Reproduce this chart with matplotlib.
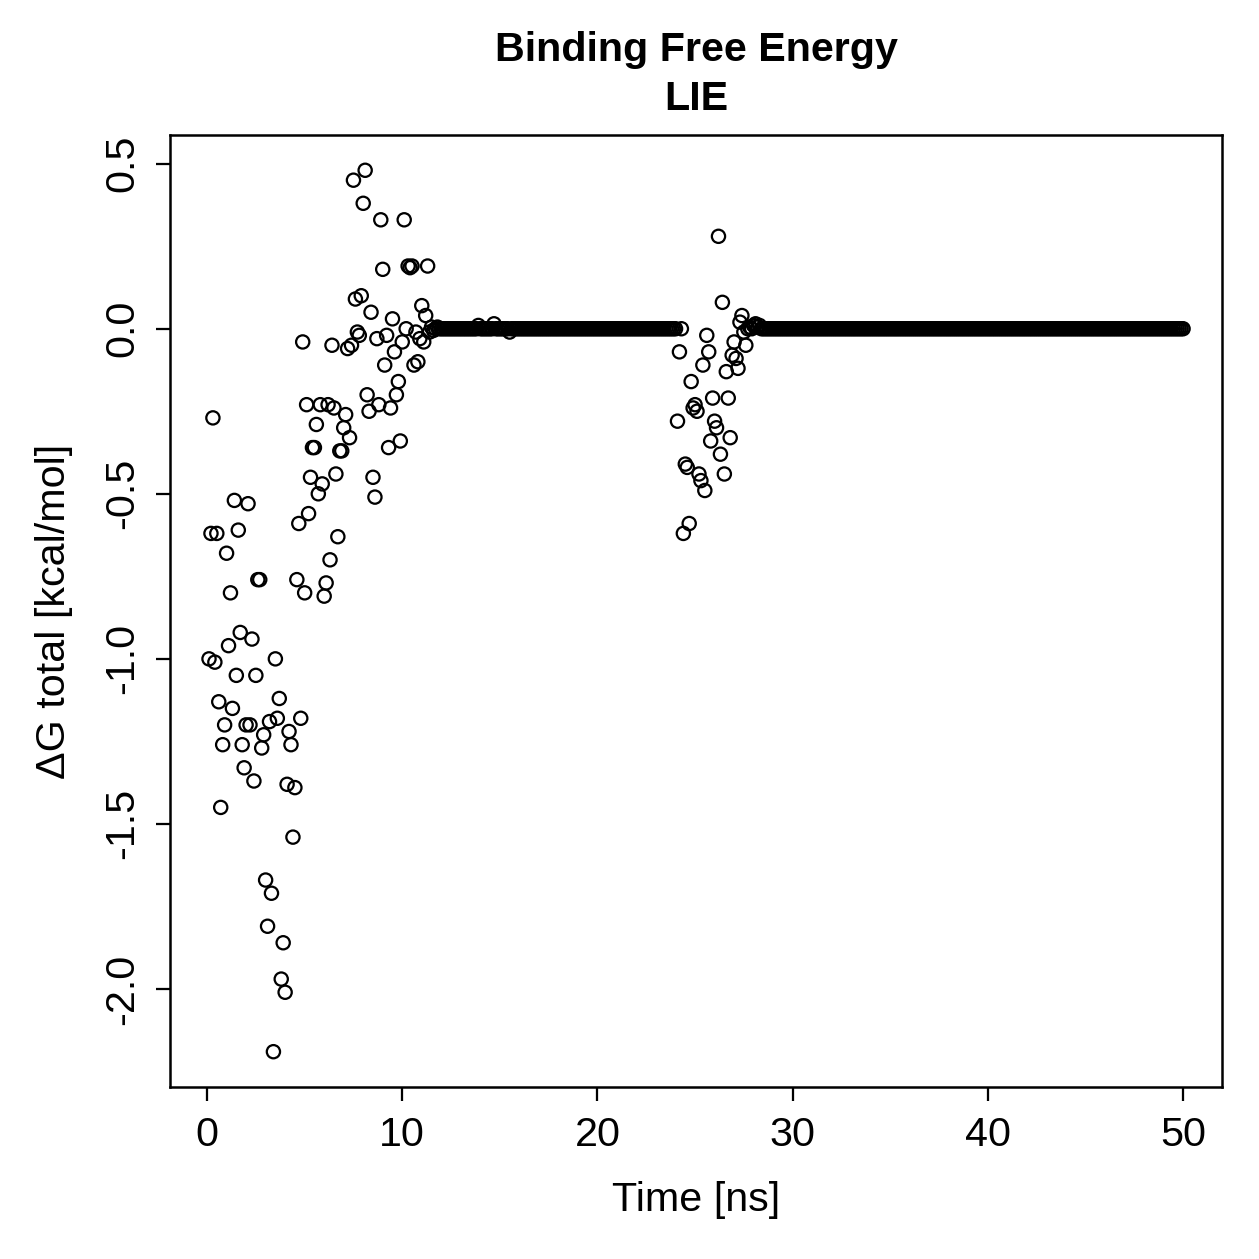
import numpy as np
import matplotlib.pyplot as plt

plt.rcParams['font.family'] = ['Liberation Sans', 'DejaVu Sans']

# dG total (kcal/mol), one value every 0.1 ns
dg_start = [
    -1.00, -0.62, -0.27, -1.01, -0.62, -1.13, -1.45, -1.26, -1.20, -0.68,
    -0.96, -0.80, -1.15, -0.52, -1.05, -0.61, -0.92, -1.26, -1.33, -1.20,
    -0.53, -1.20, -0.94, -1.37, -1.05, -0.76, -0.76, -1.27, -1.23, -1.67,
    -1.81, -1.19, -1.71, -2.19, -1.00, -1.18, -1.12, -1.97, -1.86, -2.01,
    -1.38, -1.22, -1.26, -1.54, -1.39, -0.76, -0.59, -1.18, -0.04, -0.80,
    -0.23, -0.56, -0.45, -0.36, -0.36, -0.29, -0.50, -0.23, -0.47, -0.81,
    -0.77, -0.23, -0.70, -0.05, -0.24, -0.44, -0.63, -0.37, -0.37, -0.30,
    -0.26, -0.06, -0.33, -0.05, 0.45, 0.09, -0.01, -0.02, 0.10, 0.38,
    0.48, -0.20, -0.25, 0.05, -0.45, -0.51, -0.03, -0.23, 0.33, 0.18,
    -0.11, -0.02, -0.36, -0.24, 0.03, -0.07, -0.20, -0.16, -0.34, -0.04,
    0.33, 0.00, 0.19, 0.185, 0.19, -0.11, -0.01, -0.10, -0.03, 0.07,
    -0.04, 0.04, 0.19, -0.01,
]
dg_plateau1 = ([0.005, -0.005, 0.0, 0.005] + [0.0] * 20 + [0.01] + [0.0] * 7
               + [0.015] + [0.0] * 7 + [-0.01] + [0.0] * 85)
dg_middle = [
    -0.28, -0.07, 0.00, -0.62, -0.41, -0.42, -0.59, -0.16, -0.24, -0.23,
    -0.25, -0.44, -0.46, -0.11, -0.49, -0.02, -0.07, -0.34, -0.21, -0.28,
    -0.30, 0.28, -0.38, 0.08, -0.44, -0.13, -0.21, -0.33, -0.08, -0.04,
    -0.09, -0.12, 0.02, 0.04, -0.01, -0.05,
]
dg_plateau2 = [0.0, 0.005, 0.0, 0.01, 0.015, 0.005, 0.01, 0.0] + [0.0] * 216

dg = np.array(dg_start + dg_plateau1 + dg_middle + dg_plateau2)
time_ns = np.round(np.arange(1, len(dg) + 1) * 0.1, 1)

fig = plt.figure(figsize=(1259 / 180, 1259 / 180), dpi=180)
ax = fig.add_axes([0.135, 0.1366, 0.8357, 0.7562])

ax.scatter(time_ns, dg, s=28, facecolors='none', edgecolors='black',
           linewidths=0.9, zorder=3)

ax.set_xlim(-1.9, 52.0)
ax.set_ylim(-2.297, 0.587)
ax.set_xticks([0, 10, 20, 30, 40, 50])
ax.set_yticks([0.5, 0.0, -0.5, -1.0, -1.5, -2.0])
ax.set_yticklabels(['0.5', '0.0', '-0.5', '-1.0', '-1.5', '-2.0'],
                   rotation=90, va='center')

ax.tick_params(direction='out', length=5.5, width=0.9, labelsize=16.5,
               color='black', pad=6)
for sp in ax.spines.values():
    sp.set_linewidth(1.0)

ax.set_xlabel('Time [ns]', fontsize=16.5, labelpad=11)
ax.set_ylabel('ΔG total [kcal/mol]', fontsize=16.5, labelpad=12)
ax.set_title('Binding Free Energy\nLIE', fontsize=16.5, fontweight='bold',
             pad=10, linespacing=1.38)

fig.savefig('out.png', dpi=180)
